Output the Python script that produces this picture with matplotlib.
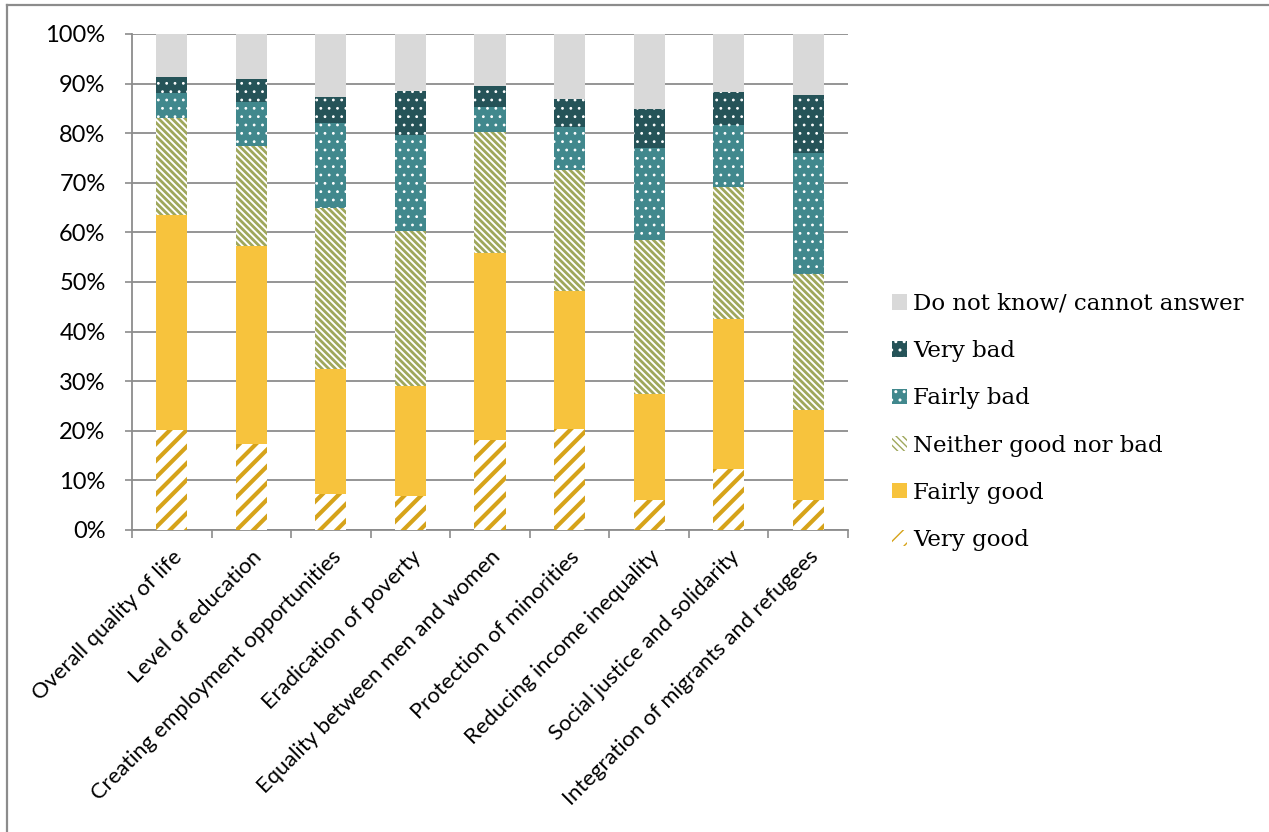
import numpy as np
import matplotlib
matplotlib.use('Agg')
import matplotlib.pyplot as plt
from matplotlib.patches import Patch
from matplotlib.lines import Line2D

categories = ['Overall quality of life', 'Level of education',
              'Creating employment opportunities', 'Eradication of poverty',
              'Equality between men and women', 'Protection of minorities',
              'Reducing income inequality', 'Social justice and solidarity',
              'Integration of migrants and refugees']

very_good    = [20.2, 17.4,  7.2,  6.9, 18.2, 20.4,  6.1, 12.3,  6.0]
fairly_good  = [43.3, 39.8, 25.3, 22.1, 37.6, 27.8, 21.3, 30.2, 18.1]
neither      = [19.6, 20.3, 32.4, 31.2, 24.4, 24.4, 31.1, 26.7, 27.5]
fairly_bad   = [ 5.1,  8.8, 17.1, 19.4,  5.1,  8.7, 18.5, 12.4, 24.5]
very_bad     = [ 3.1,  4.6,  5.2,  9.0,  4.3,  5.6,  7.9,  6.7, 11.7]
dont_know    = [ 8.7,  9.1, 12.8, 11.4, 10.4, 13.1, 15.1, 11.7, 12.2]

series_names = ['Very good', 'Fairly good', 'Neither good nor bad',
                'Fairly bad', 'Very bad', 'Do not know/ cannot answer']
series = [very_good, fairly_good, neither, fairly_bad, very_bad, dont_know]

# (face, hatch colour, hatch, hatch linewidth)
styles = [('white', '#D6A31A', '//', 3.0),
          ('#F7C33D', '#F7C33D', None, 1.0),
          ('white', '#9FA75C', '\\' * 5, 2.0),
          ('#41888D', 'white', '..', 0.8),
          ('#255358', 'white', '..', 0.8),
          ('#D9D9D9', '#D9D9D9', None, 1.0)]

sans = ['Lato', 'DejaVu Sans']
serif = ['DejaVu Serif']

fig = plt.figure(figsize=(12.69, 8.32), dpi=100)
ax = fig.add_axes([132/1269, 1-530/832, (848-132)/1269, (530-34)/832])

x = np.arange(len(categories))
bottom = np.zeros(len(categories))
handles = []
for name, vals, (fc, hc, hatch, hlw) in zip(series_names, series, styles):
    with plt.rc_context({'hatch.linewidth': hlw}):
        bars = ax.bar(x, vals, 0.39, bottom=bottom, color=fc, edgecolor=hc,
                      hatch=hatch, linewidth=0, zorder=3)
        for b in bars:
            if hasattr(b, 'set_hatch_linewidth'):
                b.set_hatch_linewidth(hlw)
        h = Patch(facecolor=fc, edgecolor=hc, hatch=hatch, linewidth=0)
        if hasattr(h, 'set_hatch_linewidth'):
            h.set_hatch_linewidth(hlw)
    handles.append(h)
    bottom += np.array(vals)

ax.set_xlim(-0.5, len(categories) - 0.5)
ax.set_ylim(0, 100)
ax.set_yticks(np.arange(0, 101, 10))
ax.set_yticklabels([f'{v}%' for v in range(0, 101, 10)], fontsize=17, family=sans)
ax.set_xticks(x)
ax.set_xticklabels(categories, rotation=45, ha='right', rotation_mode='anchor',
                   fontsize=15.8, family=sans)
ax.set_xticks(np.arange(-0.5, len(categories)), minor=True)
ax.tick_params(axis='x', which='major', length=0, pad=12)
ax.tick_params(axis='x', which='minor', length=6, width=1.2, color='#8C8C8C')
ax.tick_params(axis='y', length=5, width=1.2, color='#8C8C8C', pad=14)
ax.yaxis.grid(True, color='#8C8C8C', linewidth=1.3, zorder=0)
ax.set_axisbelow(True)
for s in ['top', 'right']:
    ax.spines[s].set_visible(False)
for s in ['left', 'bottom']:
    ax.spines[s].set_color('#8C8C8C')
    ax.spines[s].set_linewidth(1.3)

fig.legend(handles[::-1], series_names[::-1], loc='center left',
           bbox_to_anchor=(871/1269, 1-422/832), frameon=False,
           prop={'family': serif, 'size': 16.5}, handlelength=0.65,
           handleheight=0.65, handletextpad=0.3, labelspacing=1.1)

# outer frame of the chart area
fig.add_artist(Line2D([7/1269, 7/1269], [0, 1-5/832], color='#8C8C8C', linewidth=1.6))
fig.add_artist(Line2D([7/1269, 1], [1-5/832, 1-5/832], color='#8C8C8C', linewidth=1.6))

plt.savefig('out.png', dpi=100)
